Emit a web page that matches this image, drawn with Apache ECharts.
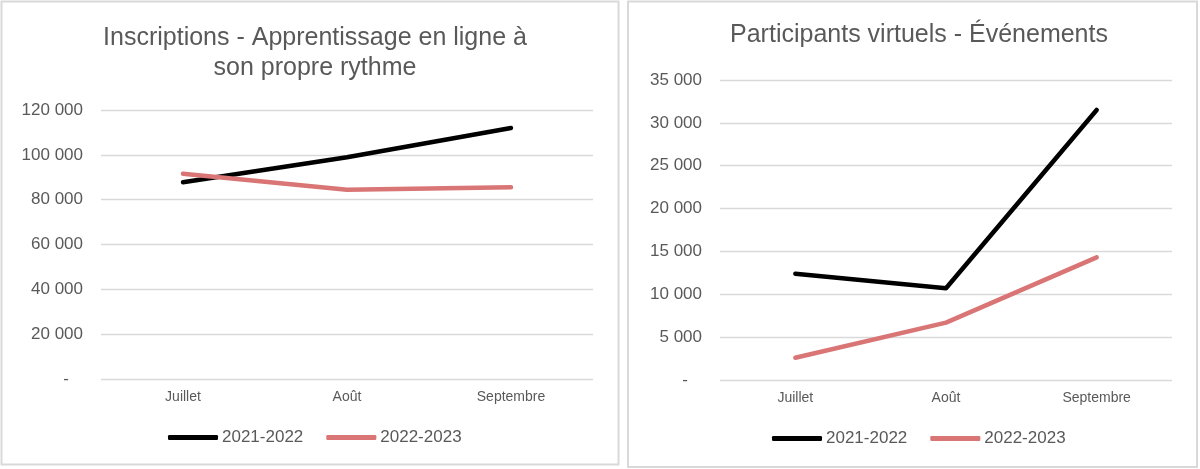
<!DOCTYPE html>
<html>
<head>
<meta charset="utf-8">
<script src="https://cdn.jsdelivr.net/npm/echarts@6/dist/echarts.min.js"></script>
<style>
html,body{margin:0;padding:0;background:#fff;}
#c{width:1200px;height:469px;}
</style>
</head>
<body>
<div id="c"></div>
<script>
var categories = ['Juillet', 'Août', 'Septembre'];
var seriesNames = ['2021-2022', '2022-2023'];
var leftTitle = 'Inscriptions - Apprentissage en ligne à\nson propre rythme';
var rightTitle = 'Participants virtuels - Événements';
var inscriptions2122 = [87800, 98900, 112000];
var inscriptions2223 = [91600, 84400, 85500];
var participants2122 = [12400, 10700, 31500];
var participants2223 = [2600, 6700, 14300];
var leftMax = 120000, leftInterval = 20000;
var rightMax = 35000, rightInterval = 5000;

var FONT = '"Liberation Sans", Arial, sans-serif';
var GRAY = '#595959';
var colors = ['#000000', '#D97575'];

function fmt(v) {
  if (v === 0) return '-   ';
  return String(v).replace(/\B(?=(\d{3})+(?!\d))/g, ' ');
}

var chart = echarts.init(document.getElementById('c'));

function yAxis(idx, max, interval) {
  return {
    type: 'value', gridIndex: idx, min: 0, max: max, interval: interval,
    axisLine: {show: false}, axisTick: {show: false},
    splitLine: {lineStyle: {color: '#d9d9d9', width: 1.3}},
    axisLabel: {formatter: fmt, color: GRAY, fontSize: 17, fontFamily: FONT, margin: 18}
  };
}
function xAxis(idx) {
  return {
    type: 'category', gridIndex: idx, data: categories, boundaryGap: true,
    axisLine: {show: false}, axisTick: {show: false},
    axisLabel: {color: GRAY, fontSize: 14, fontFamily: FONT, margin: 11}
  };
}
function line(name, data, idx, color) {
  return {
    type: 'line', name: name, data: data, xAxisIndex: idx, yAxisIndex: idx,
    showSymbol: false, symbol: 'none', smooth: false,
    lineStyle: {color: color, width: 4.5, cap: 'round', join: 'round'},
    itemStyle: {color: color},
    emphasis: {disabled: true}
  };
}
function legend(left, top) {
  return {
    left: left, top: top, icon: 'roundRect', itemWidth: 50, itemHeight: 5, itemGap: 23,
    data: seriesNames,
    textStyle: {color: GRAY, fontSize: 17, fontFamily: FONT, padding: [0, 0, 0, -1]}
  };
}

chart.setOption({
  animation: false,
  color: colors,
  title: [
    {text: leftTitle, left: 310, textAlign: 'center', top: 18,
     textStyle: {color: GRAY, fontSize: 25, fontWeight: 'normal', fontFamily: FONT, lineHeight: 30}},
    {text: rightTitle, left: 914, textAlign: 'center', top: 15,
     textStyle: {color: GRAY, fontSize: 25, fontWeight: 'normal', fontFamily: FONT, lineHeight: 31}}
  ],
  legend: [legend(163, 424), legend(767, 425)],
  grid: [
    {left: 101, top: 110, width: 492, height: 269},
    {left: 720, top: 80, width: 452, height: 300}
  ],
  xAxis: [xAxis(0), xAxis(1)],
  yAxis: [yAxis(0, leftMax, leftInterval), yAxis(1, rightMax, rightInterval)],
  series: [
    line(seriesNames[0], inscriptions2122, 0, colors[0]),
    line(seriesNames[1], inscriptions2223, 0, colors[1]),
    line(seriesNames[0], participants2122, 1, colors[0]),
    line(seriesNames[1], participants2223, 1, colors[1])
  ],
  graphic: [
    {type: 'rect', shape: {x: 1.5, y: 1.5, width: 617, height: 463}, style: {fill: 'none', stroke: '#d9d9d9', lineWidth: 2}, silent: true},
    {type: 'rect', shape: {x: 628, y: 1.5, width: 569, height: 465.5}, style: {fill: 'none', stroke: '#d9d9d9', lineWidth: 2}, silent: true}
  ]
});
</script>
</body>
</html>
